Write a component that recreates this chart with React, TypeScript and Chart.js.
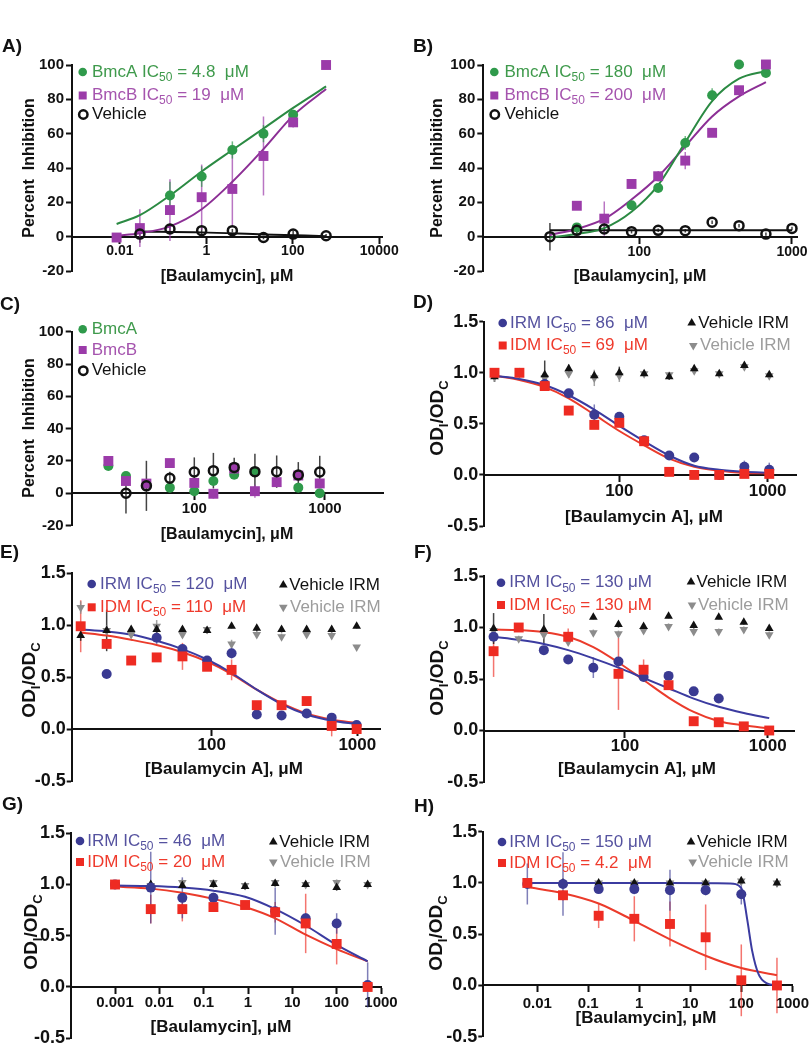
import React, { useEffect, useRef } from 'react';
import { Chart, registerables } from 'chart.js';

Chart.register(...registerables);

const FONT = '"Liberation Sans", Arial, Helvetica, sans-serif';

// ---------------- colours ----------------
const C_GREEN = '#2f9a4b';
const C_GREEN_LINE = '#2b8a43';
const C_GREEN_TXT = '#3f9a4c';
const C_GREEN_ERR = 'rgba(47,154,75,0.7)';
const C_PURPLE = '#9b3ba9';
const C_PURPLE_LINE = '#8c2f95';
const C_PURPLE_TXT = '#a554ae';
const C_PURPLE_ERR = 'rgba(155,59,169,0.7)';
const C_BLUE = '#3a3a92';
const C_BLUE_LINE = '#3b3ba0';
const C_BLUE_TXT = '#55529f';
const C_BLUE_ERR = 'rgba(58,58,146,0.65)';
const C_RED = '#ee2b22';
const C_RED_LINE = '#eb3b2b';
const C_RED_TXT = '#ef3a2c';
const C_RED_ERR = 'rgba(238,43,34,0.65)';
const C_BLACK = '#111111';
const C_BLACK_ERR = 'rgba(20,20,20,0.8)';
const C_GRAY = '#8c8c8c';
const C_GRAY_TXT = '#9c9c9c';
const C_GRAY_ERR = 'rgba(140,140,140,0.8)';

// ---------------- tick values ----------------
const PCT_YTICKS = [-20, 0, 20, 40, 60, 80, 100];
const OD_YTICKS = [-0.5, 0, 0.5, 1, 1.5];
const A_XTICKS = [0.01, 1, 100, 10000];
const BF_XTICKS = [100, 1000];
const G_XTICKS = [0.001, 0.01, 0.1, 1, 10, 100, 1000];
const H_XTICKS = [0.01, 0.1, 1, 10, 100, 1000];

// ---------------- Panel A ----------------
const A_CONC = [0.0084, 0.029, 0.144, 0.78, 4.0, 21, 102, 590];
const A_BMCA = [null, null, 24, 35, 50.5, 60, 71, null];
const A_BMCA_ERR = [0, 0, 8, 6, 5, 5, 3, 0];
const A_BMCB = [-0.5, 5, 15.5, 23, 27.8, 47, 66.6, 100];
const A_BMCB_ERR = [0, 11, 18, 19, 21, 23, 3, 0];
const A_VEH = [null, 1.5, 4.5, 3.5, 3.5, -0.5, 1.5, 0.5];
const A_VEH_ERR = [0, 5, 3, 2, 1, 1, 2, 1];
const A_FIT_X = [0.0084, 0.029, 0.144, 0.78, 4, 21, 102, 590];
const A_FIT_BMCA = [7.4, 12.5, 24, 38, 50.5, 63, 75, 87.5];
const A_FIT_BMCB = [0.5, 2, 6, 16, 32, 51, 70.5, 86];
const A_FIT_VEH_X = [0.029, 0.78, 21, 590];
const A_FIT_VEH = [3, 2.5, 1.3, 0.3];

// ---------------- Panel B ----------------
const B_CONC = [26, 39, 59, 89, 133, 200, 300, 450, 675, 1000];
const B_BMCA = [null, 5.4, null, 18.3, 28.4, 54.6, 82.4, 100.3, 95.4, null];
const B_BMCA_ERR = [0, 2, 0, 2, 2, 4, 4, 1, 2, 0];
const B_BMCB = [null, 18, 10.5, 30.7, 35.2, 44.3, 60.5, 85.3, 100.3, null];
const B_BMCB_ERR = [0, 1, 10, 1, 3, 5, 1, 1, 1, 0];
const B_VEH = [0, 3.7, 4.5, 2.9, 3.7, 3.5, 8.4, 6.4, 1.5, 4.8];
const B_VEH_ERR = [8, 2, 2, 1, 1, 1, 1, 1, 1, 1];
const B_FIT_X = [26, 39, 59, 89, 133, 200, 300, 450, 675];
const B_FIT_BMCA = [-0.5, 1.5, 5, 14.5, 30, 55, 79, 92, 96.5];
const B_FIT_BMCB = [1, 4.5, 10.3, 21.6, 35, 52.6, 70, 81.7, 90];
const B_FIT_VEH_X = [26, 1000];
const B_FIT_VEH = [3.7, 3.7];

// ---------------- Panel C ----------------
const C_CONC = [22, 30, 43, 65, 100, 140, 202, 291, 427, 625, 912];
const C_BMCA = [16.9, 10.7, null, 3.5, 1.3, 7.6, 11.5, 13, null, 3.5, 0];
const C_BMCA_ERR = [0, 2, 0, 2, 2, 2, 2, 2, 0, 2, 1];
const C_BMCB = [20, 7.6, 6, 18.7, 6.4, -0.3, 15.3, 1.3, 6.9, 11, 6.1];
const C_BMCB_ERR = [1, 2, 2, 1, 2, 3, 2, 4, 3, 2, 1];
const C_VEH = [null, 0, 4.6, 9.3, 13.2, 14, 16, 13.4, 13.4, 11.3, 13.2];
const C_VEH_ERR = [0, 12.5, 15.5, 4, 9, 11, 6, 11, 10, 8, 10];

// ---------------- Panel D ----------------
const D_CONC = [14.4, 21.2, 31.4, 45.6, 67.8, 100, 147, 217, 320, 472, 697, 1026];
const D_IRM = [null, null, 0.89, 0.8, 0.59, 0.57, 0.34, 0.19, 0.17, 0.0, 0.08, 0.05];
const D_IRM_ERR = [0, 0, 0.02, 0.02, 0.1, 0.04, 0.02, 0.02, 0.02, 0, 0.06, 0.07];
const D_IDM = [1.0, 1.0, 0.87, 0.63, 0.49, 0.51, 0.33, 0.03, 0.0, 0.0, 0.01, 0.01];
const D_IDM_ERR = [0.04, 0.03, 0.02, 0.02, 0.04, 0.03, 0.04, 0.02, 0.01, 0.01, 0.01, 0.01];
const D_VEH = [0.96, 1.0, 0.98, 1.04, 0.97, 1.0, 0.99, 0.96, 1.04, 0.99, 1.07, 0.98];
const D_VEH_ERR = [0.05, 0.03, 0.14, 0.04, 0.04, 0.06, 0.02, 0.03, 0.03, 0.03, 0.02, 0.02];
const D_VEH2 = [0.96, 0.99, 0.95, 0.99, 0.95, 0.97, 0.99, 0.98, 1.02, 0.99, 1.06, 0.97];
const D_VEH2_ERR = [0.05, 0.03, 0.05, 0.04, 0.08, 0.06, 0.02, 0.03, 0.03, 0.03, 0.02, 0.02];
const D_FIT_IRM = [0.97, 0.94, 0.88, 0.78, 0.64, 0.48, 0.33, 0.19, 0.09, 0.05, 0.03, 0.02];
const D_FIT_IDM = [0.97, 0.93, 0.86, 0.75, 0.59, 0.43, 0.29, 0.16, 0.08, 0.04, 0.02, 0.015];

// ---------------- Panel E ----------------
const E_CONC = [12.6, 19, 28, 41.9, 63, 93, 137, 204, 302, 449, 667, 990];
const E_IRM = [null, 0.53, null, 0.88, 0.77, 0.66, 0.73, 0.14, 0.13, 0.15, 0.11, 0.04];
const E_IRM_ERR = [0, 0, 0, 0.06, 0.04, 0.03, 0.05, 0.02, 0.02, 0.02, 0.02, 0.02];
const E_IDM = [0.99, 0.82, 0.66, 0.69, 0.7, 0.6, 0.57, 0.23, 0.23, 0.27, 0.03, 0.0];
const E_IDM_ERR = [0.25, 0.03, 0.03, 0.03, 0.13, 0.03, 0.1, 0.02, 0.02, 0.02, 0.1, 0.02];
const E_VEH = [0.9, 0.95, 0.96, 0.96, 0.96, 0.95, 0.99, 0.97, 0.96, 0.96, 0.96, 0.99];
const E_VEH_ERR = [0.05, 0.2, 0.03, 0.05, 0.03, 0.03, 0.02, 0.03, 0.03, 0.03, 0.03, 0.02];
const E_VEH2 = [1.17, 0.95, 0.91, 0.99, 0.91, 0.96, 0.82, 0.91, 0.89, 0.91, 0.9, 0.79];
const E_VEH2_ERR = [0.06, 0.05, 0.03, 0.06, 0.03, 0.03, 0.04, 0.03, 0.03, 0.03, 0.03, 0.02];
const E_FIT_IRM = [0.96, 0.94, 0.91, 0.85, 0.77, 0.67, 0.54, 0.38, 0.24, 0.14, 0.08, 0.05];
const E_FIT_IDM = [0.93, 0.9, 0.86, 0.81, 0.74, 0.65, 0.53, 0.38, 0.25, 0.15, 0.09, 0.06];

// ---------------- Panel F ----------------
const F_CONC = [12, 18, 27, 40, 60, 90, 135, 202, 303, 454, 680, 1025];
const F_IRM = [0.91, null, 0.78, 0.69, 0.61, 0.67, 0.52, 0.53, 0.38, 0.31, null, null];
const F_IRM_ERR = [0.03, 0, 0.02, 0.03, 0.1, 0.03, 0.03, 0.02, 0.02, 0.04, 0, 0];
const F_IDM = [0.77, 1.0, null, 0.91, null, 0.55, 0.59, 0.44, 0.09, 0.08, 0.04, 0.0];
const F_IDM_ERR = [0.25, 0.03, 0, 0.08, 0, 0.35, 0.1, 0.03, 0.02, 0.02, 0.02, 0.02];
const F_VEH = [0.99, null, 0.98, null, 1.1, 1.03, 1.01, 1.11, 1.02, 1.1, 1.05, 0.99];
const F_VEH_ERR = [0.15, 0, 0.15, 0, 0.02, 0.03, 0.02, 0.02, 0.03, 0.02, 0.02, 0.02];
const F_VEH2 = [0.97, 0.89, 0.93, 0.86, 0.95, 0.94, 0.97, 1.01, 0.96, 0.96, 0.98, 0.93];
const F_VEH2_ERR = [0.03, 0.03, 0.03, 0.03, 0.03, 0.03, 0.03, 0.03, 0.03, 0.03, 0.03, 0.03];
const F_FIT_IRM = [0.91, 0.88, 0.84, 0.78, 0.7, 0.61, 0.51, 0.41, 0.31, 0.23, 0.17, 0.12];
const F_FIT_IDM = [0.98, 0.975, 0.955, 0.91, 0.81, 0.66, 0.49, 0.32, 0.18, 0.09, 0.05, 0.02];

// ---------------- Panel G ----------------
const G_CONC = [0.001, 0.0064, 0.033, 0.166, 0.86, 4.1, 20, 100, 500];
const G_IRM = [1.0, 0.97, 0.87, 0.87, null, 0.74, 0.67, 0.62, 0.02];
const G_IRM_ERR = [0, 0.35, 0.2, 0.05, 0, 0.23, 0.05, 0.1, 0.22];
const G_IDM = [1.0, 0.76, 0.76, 0.78, 0.8, 0.73, 0.62, 0.42, 0.0];
const G_IDM_ERR = [0, 0.14, 0.12, 0.03, 0.03, 0.1, 0.29, 0.2, 0.03];
const G_VEH = [null, 1.0, 0.99, 1.0, 0.98, 1.01, 1.0, 0.97, 1.0];
const G_VEH2 = [null, 0.99, 1.02, 1.02, 0.99, 1.02, 1.0, 1.02, 1.0];
const G_VEH_ERR = [0, 0.03, 0.03, 0.03, 0.03, 0.03, 0.03, 0.03, 0.02];
const G_FIT_IRM = [0.99, 0.985, 0.97, 0.94, 0.88, 0.76, 0.6, 0.41, 0.25];
const G_FIT_IDM = [0.98, 0.96, 0.92, 0.86, 0.78, 0.67, 0.51, 0.37, 0.25];

// ---------------- Panel H ----------------
const H_CONC = [0.0064, 0.032, 0.16, 0.8, 4, 20, 100, 500];
const H_IRM = [0.99, 0.99, 0.94, 0.94, 0.93, 0.93, 0.89, null];
const H_IRM_ERR = [0.2, 0.31, 0.03, 0.05, 0.2, 0.05, 0.1, 0];
const H_IDM = [1.0, 0.88, 0.68, 0.65, 0.6, 0.47, 0.05, 0.0];
const H_IDM_ERR = [0.03, 0.05, 0.12, 0.22, 0.22, 0.32, 0.35, 0.27];
const H_VEH = [null, 1.0, 1.0, 1.0, 1.0, 1.0, 1.02, 1.0];
const H_VEH2 = [null, 1.0, 1.0, 1.0, 1.0, 1.0, 1.02, 1.0];
const H_VEH_ERR = [0, 0.02, 0.02, 0.02, 0.02, 0.02, 0.04, 0.04];
const H_FIT_IRM_X = [0.0064, 0.16, 4, 60, 100, 131, 163, 218, 318, 500];
const H_FIT_IRM = [1.0, 1.0, 1.0, 0.995, 0.95, 0.64, 0.34, 0.11, 0.02, 0.0];
const H_FIT_IDM = [0.96, 0.9, 0.8, 0.63, 0.45, 0.29, 0.17, 0.1];

// ---------------- text pieces ----------------
type Seg = [string, number];
const PCT_TITLE: Seg[] = [['Percent  Inhibition', 0]];
const OD_TITLE: Seg[] = [['OD', 0], ['I', 1], ['/OD', 0], ['C', 1]];
const ic = (name: string, val: string): Seg[] => [[name + ' IC', 0], ['50', 1], [' = ' + val, 0]];
const plain = (t: string): Seg[] => [[t, 0]];

// ---------------- helpers ----------------
function S(x: number[], y: (number | null)[], err: number[] | null, style: string, color: string, errColor: string, order: number, r?: number) {
  return { x, y, err, style, color, errColor, order, r };
}
function CV(x: number[], y: number[], color: string) {
  return { x, y, color };
}
function L(m: string, c: string, mx: number, my: number, tx: number, segs: Seg[], tc: string) {
  return { m, c, mx, my, tx, segs, tc };
}

const PANELS: any[] = [
  {
    key: 'A', area: [72, 65, 382, 271], xMin: 0.00078, xMax: 11600, xTicks: A_XTICKS, xFont: 14, xPad: 0,
    yTicks: PCT_YTICKS, yKind: 'pct', yFont: 15, tickLen: 6, yPad: 2,
    series: [
      S(A_CONC, A_VEH, A_VEH_ERR, 'open', C_BLACK, C_BLACK_ERR, 1),
      S(A_CONC, A_BMCB, A_BMCB_ERR, 'rect', C_PURPLE, C_PURPLE_ERR, 2),
      S(A_CONC, A_BMCA, A_BMCA_ERR, 'circle', C_GREEN, C_GREEN_ERR, 3),
    ],
    curves: [CV(A_FIT_X, A_FIT_BMCA, C_GREEN_LINE), CV(A_FIT_X, A_FIT_BMCB, C_PURPLE_LINE), CV(A_FIT_VEH_X, A_FIT_VEH, C_BLACK)],
    label: ['A)', 2, 47], xTitle: ['[Baulamycin], μM', 227, 277, 16], yTitle: { segs: PCT_TITLE, x: 30, y: 168, size: 16 },
    legend: [
      L('circle', C_GREEN, 82.7, 72, 92, ic('BmcA', '4.8  μM'), C_GREEN_TXT),
      L('rect', C_PURPLE, 82.7, 95.5, 92, ic('BmcB', '19  μM'), C_PURPLE_TXT),
      L('open', C_BLACK, 83.3, 114.5, 92, plain('Vehicle'), C_BLACK),
    ],
  },
  {
    key: 'B', area: [483.3, 65, 797.7, 271], xMin: 9.52, xMax: 1090, xTicks: BF_XTICKS, xFont: 14, xPad: 1,
    yTicks: PCT_YTICKS, yKind: 'pct', yFont: 15, tickLen: 6, yPad: 2,
    series: [
      S(B_CONC, B_VEH, B_VEH_ERR, 'open', C_BLACK, C_BLACK_ERR, 1),
      S(B_CONC, B_BMCB, B_BMCB_ERR, 'rect', C_PURPLE, C_PURPLE_ERR, 2),
      S(B_CONC, B_BMCA, B_BMCA_ERR, 'circle', C_GREEN, C_GREEN_ERR, 3),
    ],
    curves: [CV(B_FIT_X, B_FIT_BMCA, C_GREEN_LINE), CV(B_FIT_X, B_FIT_BMCB, C_PURPLE_LINE), CV(B_FIT_VEH_X, B_FIT_VEH, C_BLACK)],
    label: ['B)', 413, 47], xTitle: ['[Baulamycin], μM', 640, 277, 16], yTitle: { segs: PCT_TITLE, x: 438, y: 168, size: 16 },
    legend: [
      L('circle', C_GREEN, 494.3, 72, 504.5, ic('BmcA', '180  μM'), C_GREEN_TXT),
      L('rect', C_PURPLE, 494.3, 95.5, 504.5, ic('BmcB', '200  μM'), C_PURPLE_TXT),
      L('open', C_BLACK, 494.8, 114.5, 504.5, plain('Vehicle'), C_BLACK),
    ],
  },
  {
    key: 'C', area: [71.7, 331.7, 383, 525.6], xMin: 11.53, xMax: 2780, xTicks: BF_XTICKS, xFont: 15, xPad: 1,
    yTicks: PCT_YTICKS, yKind: 'pct', yFont: 15, tickLen: 6, yPad: 2,
    series: [
      S(C_CONC, C_VEH, C_VEH_ERR, 'open', C_BLACK, C_BLACK_ERR, 1),
      S(C_CONC, C_BMCB, C_BMCB_ERR, 'rect', C_PURPLE, C_PURPLE_ERR, 2),
      S(C_CONC, C_BMCA, C_BMCA_ERR, 'circle', C_GREEN, C_GREEN_ERR, 3),
    ],
    curves: [],
    label: ['C)', 0, 305], xTitle: ['[Baulamycin], μM', 227, 535, 16], yTitle: { segs: PCT_TITLE, x: 30, y: 428, size: 16 },
    legend: [
      L('circle', C_GREEN, 82.7, 329.3, 91.7, plain('BmcA'), C_GREEN_TXT),
      L('rect', C_PURPLE, 82.7, 350, 91.7, plain('BmcB'), C_PURPLE_TXT),
      L('open', C_BLACK, 83.3, 370.7, 91.7, plain('Vehicle'), C_BLACK),
    ],
  },
  {
    key: 'D', area: [484.3, 321.7, 796, 526], xMin: 12.29, xMax: 1554, xTicks: BF_XTICKS, xFont: 17, xPad: 0,
    yTicks: OD_YTICKS, yKind: 'od', yFont: 18, tickLen: 5, yPad: 1,
    series: [
      S(D_CONC, D_IDM, D_IDM_ERR, 'rect', C_RED, C_RED_ERR, 1),
      S(D_CONC, D_IRM, D_IRM_ERR, 'circle', C_BLUE, C_BLUE_ERR, 2),
      S(D_CONC, D_VEH, D_VEH_ERR, 'triUp', C_BLACK, C_BLACK_ERR, 3),
      S(D_CONC, D_VEH2, D_VEH2_ERR, 'triDown', C_GRAY, C_GRAY_ERR, 4),
    ],
    curves: [CV(D_CONC, D_FIT_IRM, C_BLUE_LINE), CV(D_CONC, D_FIT_IDM, C_RED_LINE)],
    label: ['D)', 413, 303], xTitle: ['[Baulamycin A], μM', 644, 517, 17], yTitle: { segs: OD_TITLE, x: 438, y: 418, size: 19 },
    legend: [
      L('circle', C_BLUE, 502.7, 323, 510, ic('IRM', '86  μM'), C_BLUE_TXT),
      L('rect', C_RED, 502.7, 345.5, 510, ic('IDM', '69  μM'), C_RED_TXT),
      L('triUp', C_BLACK, 691.7, 323, 698.3, plain('Vehicle IRM'), C_BLACK),
      L('triDown', C_GRAY, 693.3, 345.5, 700, plain('Vehicle IRM'), C_GRAY_TXT),
    ],
  },
  {
    key: 'E', area: [71.7, 573.3, 380, 781], xMin: 10.93, xMax: 1432, xTicks: BF_XTICKS, xFont: 17, xPad: 0,
    yTicks: OD_YTICKS, yKind: 'od', yFont: 18, tickLen: 5, yPad: 1,
    series: [
      S(E_CONC, E_IDM, E_IDM_ERR, 'rect', C_RED, C_RED_ERR, 1),
      S(E_CONC, E_IRM, E_IRM_ERR, 'circle', C_BLUE, C_BLUE_ERR, 2),
      S(E_CONC, E_VEH, E_VEH_ERR, 'triUp', C_BLACK, C_BLACK_ERR, 3),
      S(E_CONC, E_VEH2, E_VEH2_ERR, 'triDown', C_GRAY, C_GRAY_ERR, 4),
    ],
    curves: [CV(E_CONC, E_FIT_IRM, C_BLUE_LINE), CV(E_CONC, E_FIT_IDM, C_RED_LINE)],
    label: ['E)', 0, 553], xTitle: ['[Baulamycin A], μM', 224, 769, 17], yTitle: { segs: OD_TITLE, x: 30, y: 680, size: 19 },
    legend: [
      L('circle', C_BLUE, 91.7, 584, 100, ic('IRM', '120  μM'), C_BLUE_TXT),
      L('rect', C_RED, 91.7, 607.3, 100, ic('IDM', '110  μM'), C_RED_TXT),
      L('triUp', C_BLACK, 283.3, 585, 289.3, plain('Vehicle IRM'), C_BLACK),
      L('triDown', C_GRAY, 283.3, 607.3, 290, plain('Vehicle IRM'), C_GRAY_TXT),
    ],
  },
  {
    key: 'F', area: [484.3, 576, 794.3, 782], xMin: 10.33, xMax: 1536, xTicks: BF_XTICKS, xFont: 17, xPad: 0,
    yTicks: OD_YTICKS, yKind: 'od', yFont: 18, tickLen: 5, yPad: 1,
    series: [
      S(F_CONC, F_IDM, F_IDM_ERR, 'rect', C_RED, C_RED_ERR, 1),
      S(F_CONC, F_IRM, F_IRM_ERR, 'circle', C_BLUE, C_BLUE_ERR, 2),
      S(F_CONC, F_VEH, F_VEH_ERR, 'triUp', C_BLACK, C_BLACK_ERR, 3),
      S(F_CONC, F_VEH2, F_VEH2_ERR, 'triDown', C_GRAY, C_GRAY_ERR, 4),
    ],
    curves: [CV(F_CONC, F_FIT_IRM, C_BLUE_LINE), CV(F_CONC, F_FIT_IDM, C_RED_LINE)],
    label: ['F)', 414, 553], xTitle: ['[Baulamycin A], μM', 637, 769, 17], yTitle: { segs: OD_TITLE, x: 438, y: 678, size: 19 },
    legend: [
      L('circle', C_BLUE, 501, 582.7, 509.3, ic('IRM', '130 μM'), C_BLUE_TXT),
      L('rect', C_RED, 501, 605, 509.3, ic('IDM', '130 μM'), C_RED_TXT),
      L('triUp', C_BLACK, 691, 582, 696.5, plain('Vehicle IRM'), C_BLACK),
      L('triDown', C_GRAY, 692, 605, 698, plain('Vehicle IRM'), C_GRAY_TXT),
    ],
  },
  {
    key: 'G', area: [71, 833.3, 381, 1038.3], xMin: 0.0001017, xMax: 1000, xTicks: G_XTICKS, xFont: 15, xPad: 1,
    yTicks: OD_YTICKS, yKind: 'od', yFont: 18, tickLen: 5, yPad: 1,
    series: [
      S(G_CONC, G_IDM, G_IDM_ERR, 'rect', C_RED, C_RED_ERR, 1),
      S(G_CONC, G_IRM, G_IRM_ERR, 'circle', C_BLUE, C_BLUE_ERR, 2),
      S(G_CONC, G_VEH, G_VEH_ERR, 'triUp', C_BLACK, C_BLACK_ERR, 3),
      S(G_CONC, G_VEH2, G_VEH_ERR, 'triDown', C_GRAY, C_GRAY_ERR, 4),
    ],
    curves: [CV(G_CONC, G_FIT_IRM, C_BLUE_LINE), CV(G_CONC, G_FIT_IDM, C_RED_LINE)],
    label: ['G)', 2, 805], xTitle: ['[Baulamycin], μM', 221, 1027, 17], yTitle: { segs: OD_TITLE, x: 31.7, y: 932, size: 19 },
    legend: [
      L('circle', C_BLUE, 80, 841, 87.3, ic('IRM', '46  μM'), C_BLUE_TXT),
      L('rect', C_RED, 80, 862, 87.3, ic('IDM', '20  μM'), C_RED_TXT),
      L('triUp', C_BLACK, 273.3, 842, 279.3, plain('Vehicle IRM'), C_BLACK),
      L('triDown', C_GRAY, 273.3, 862, 280, plain('Vehicle IRM'), C_GRAY_TXT),
    ],
  },
  {
    key: 'H', area: [483.3, 831.7, 795, 1036.7], xMin: 0.000877, xMax: 1000, xTicks: H_XTICKS, xFont: 15, xPad: 3,
    yTicks: OD_YTICKS, yKind: 'od', yFont: 18, tickLen: 5, yPad: 1,
    series: [
      S(H_CONC, H_IDM, H_IDM_ERR, 'rect', C_RED, C_RED_ERR, 1),
      S(H_CONC, H_IRM, H_IRM_ERR, 'circle', C_BLUE, C_BLUE_ERR, 2),
      S(H_CONC, H_VEH, H_VEH_ERR, 'triUp', C_BLACK, C_BLACK_ERR, 3),
      S(H_CONC, H_VEH2, H_VEH_ERR, 'triDown', C_GRAY, C_GRAY_ERR, 4),
    ],
    curves: [CV(H_FIT_IRM_X, H_FIT_IRM, C_BLUE_LINE), CV(H_CONC, H_FIT_IDM, C_RED_LINE)],
    label: ['H)', 414, 807], xTitle: ['[Baulamycin], μM', 646, 1018, 17], yTitle: { segs: OD_TITLE, x: 437, y: 933, size: 19 },
    legend: [
      L('circle', C_BLUE, 502, 842, 509.3, ic('IRM', '150 μM'), C_BLUE_TXT),
      L('rect', C_RED, 502, 863, 509.3, ic('IDM', '4.2  μM'), C_RED_TXT),
      L('triUp', C_BLACK, 691, 842, 697, plain('Vehicle IRM'), C_BLACK),
      L('triDown', C_GRAY, 692.7, 862, 698, plain('Vehicle IRM'), C_GRAY_TXT),
    ],
  },
];

// ---------------- drawing helpers ----------------
function drawRich(ctx: CanvasRenderingContext2D, segs: Seg[], x: number, y: number, size: number, weight: string, color: string, align: string) {
  const subSize = Math.round(size * 0.7);
  const fMain = `${weight} ${size}px ${FONT}`;
  const fSub = `${weight} ${subSize}px ${FONT}`;
  let total = 0;
  for (const [t, sub] of segs) {
    ctx.font = sub ? fSub : fMain;
    total += ctx.measureText(t).width;
  }
  let cx = align === 'center' ? x - total / 2 : x;
  ctx.fillStyle = color;
  ctx.textBaseline = 'middle';
  ctx.textAlign = 'left';
  for (const [t, sub] of segs) {
    ctx.font = sub ? fSub : fMain;
    ctx.fillText(t, cx, sub ? y + size * 0.33 : y);
    cx += ctx.measureText(t).width;
  }
}

function drawMarker(ctx: CanvasRenderingContext2D, m: string, x: number, y: number, color: string) {
  ctx.save();
  ctx.fillStyle = color;
  ctx.strokeStyle = color;
  ctx.beginPath();
  if (m === 'circle') {
    ctx.arc(x, y, 4.3, 0, Math.PI * 2);
    ctx.fill();
  } else if (m === 'rect') {
    ctx.rect(x - 4, y - 4, 8, 8);
    ctx.fill();
  } else if (m === 'open') {
    ctx.lineWidth = 2.5;
    ctx.arc(x, y, 4.2, 0, Math.PI * 2);
    ctx.stroke();
  } else if (m === 'triUp') {
    const r = 5;
    ctx.moveTo(x, y - r);
    ctx.lineTo(x + r * 0.866, y + r * 0.5);
    ctx.lineTo(x - r * 0.866, y + r * 0.5);
    ctx.closePath();
    ctx.fill();
  } else if (m === 'triDown') {
    const r = 5;
    ctx.moveTo(x, y + r);
    ctx.lineTo(x + r * 0.866, y - r * 0.5);
    ctx.lineTo(x - r * 0.866, y - r * 0.5);
    ctx.closePath();
    ctx.fill();
  }
  ctx.restore();
}

function makePlugin(p: any) {
  return {
    id: 'deco' + p.key,
    beforeDatasetsDraw(chart: any) {
      const ctx = chart.ctx;
      const xs = chart.scales.x;
      const ys = chart.scales.y;
      chart.data.datasets.forEach((ds: any) => {
        if (!ds.errorBars) return;
        ctx.save();
        ctx.strokeStyle = ds.errorColor;
        ctx.lineWidth = 1.5;
        ds.data.forEach((pt: any, i: number) => {
          const e = ds.errorBars[i];
          if (!e) return;
          const px = xs.getPixelForValue(pt.x);
          ctx.beginPath();
          ctx.moveTo(px, ys.getPixelForValue(pt.y + e));
          ctx.lineTo(px, ys.getPixelForValue(pt.y - e));
          ctx.stroke();
        });
        ctx.restore();
      });
    },
    afterDraw(chart: any) {
      const ctx = chart.ctx;
      ctx.save();
      // panel letter
      ctx.font = `bold 19px ${FONT}`;
      ctx.fillStyle = '#111';
      ctx.textBaseline = 'middle';
      ctx.textAlign = 'left';
      ctx.fillText(p.label[0], p.label[1], p.label[2]);
      // x title
      drawRich(ctx, [[p.xTitle[0], 0]], p.xTitle[1], p.xTitle[2], p.xTitle[3], 'bold', '#111', 'center');
      // y title
      ctx.save();
      ctx.translate(p.yTitle.x, p.yTitle.y);
      ctx.rotate(-Math.PI / 2);
      drawRich(ctx, p.yTitle.segs, 0, 0, p.yTitle.size, 'bold', '#111', 'center');
      ctx.restore();
      // legend
      p.legend.forEach((e: any) => {
        drawMarker(ctx, e.m, e.mx, e.my, e.c);
        drawRich(ctx, e.segs, e.tx, e.my, 17, 'normal', e.tc, 'left');
      });
      ctx.restore();
    },
  };
}

function buildConfig(p: any) {
  const [Lx, T, R, B] = p.area;
  const YW = 60;
  const datasets: any[] = [];
  p.series.forEach((s: any) => {
    const data: any[] = [];
    const errs: number[] = [];
    s.x.forEach((x: number, i: number) => {
      const y = s.y[i];
      if (y === null || y === undefined) return;
      data.push({ x, y });
      errs.push(s.err ? s.err[i] : 0);
    });
    const isRect = s.style === 'rect';
    const isTri = s.style === 'triUp' || s.style === 'triDown';
    const isOpen = s.style === 'open';
    datasets.push({
      type: 'scatter',
      data,
      errorBars: errs,
      errorColor: s.errColor,
      showLine: false,
      clip: false,
      order: s.order,
      pointStyle: isRect ? 'rect' : isTri ? 'triangle' : 'circle',
      pointRotation: s.style === 'triDown' ? 180 : 0,
      pointRadius: s.r || (isRect ? 7 : isTri ? 5 : isOpen ? 4.5 : 5),
      pointBackgroundColor: isOpen ? 'rgba(255,255,255,0)' : s.color,
      pointBorderColor: s.color,
      pointBorderWidth: isOpen ? 2.5 : 0,
    });
  });
  p.curves.forEach((c: any) => {
    datasets.push({
      type: 'line',
      data: c.x.map((x: number, i: number) => ({ x, y: c.y[i] })),
      borderColor: c.color,
      borderWidth: 2,
      pointRadius: 0,
      cubicInterpolationMode: 'monotone',
      fill: false,
      clip: false,
      order: 50,
    });
  });
  const isPct = p.yKind === 'pct';
  return {
    type: 'scatter',
    data: { datasets },
    plugins: [makePlugin(p)],
    options: {
      responsive: false,
      animation: false,
      devicePixelRatio: 1,
      events: [],
      layout: { padding: { left: Lx - YW, top: T, right: 812 - R, bottom: 1050 - B } },
      plugins: { legend: { display: false }, tooltip: { enabled: false }, title: { display: false } },
      scales: {
        x: {
          type: 'logarithmic',
          min: p.xMin,
          max: p.xMax,
          position: { y: 0 },
          border: { display: true, color: '#111', width: 2 },
          grid: { display: true, drawOnChartArea: false, drawTicks: true, tickLength: 6, tickWidth: 2, tickColor: '#111' },
          ticks: {
            autoSkip: false,
            maxRotation: 0,
            padding: p.xPad,
            color: '#111',
            font: { family: FONT, size: p.xFont, weight: 'bold' },
            callback: (v: number) => String(v),
          },
          afterBuildTicks: (s: any) => {
            s.ticks = p.xTicks.map((v: number) => ({ value: v }));
          },
        },
        y: {
          type: 'linear',
          min: p.yTicks[0],
          max: p.yTicks[p.yTicks.length - 1],
          border: { display: true, color: '#111', width: 2 },
          grid: { display: true, drawOnChartArea: false, drawTicks: true, tickLength: p.tickLen, tickWidth: 2, tickColor: '#111' },
          ticks: {
            padding: p.yPad,
            color: '#111',
            font: { family: FONT, size: p.yFont, weight: 'bold' },
            callback: (v: number) => (isPct ? String(v) : v.toFixed(1)),
          },
          afterBuildTicks: (s: any) => {
            s.ticks = p.yTicks.map((v: number) => ({ value: v }));
          },
          afterFit: (s: any) => {
            s.width = YW;
          },
        },
      },
    },
  };
}

function Panel({ spec }: { spec: any }) {
  const ref = useRef<HTMLCanvasElement>(null);
  useEffect(() => {
    const chart = new Chart(ref.current as HTMLCanvasElement, buildConfig(spec) as any);
    return () => chart.destroy();
  }, [spec]);
  return (
    <canvas
      ref={ref}
      width={812}
      height={1050}
      style={{ position: 'absolute', left: 0, top: 0, width: 812, height: 1050 }}
    />
  );
}

export default function App() {
  return (
    <div style={{ position: 'absolute', left: 0, top: 0, width: 812, height: 1050, overflow: 'hidden', background: '#fff' }}>
      {PANELS.map((p) => (
        <Panel key={p.key} spec={p} />
      ))}
    </div>
  );
}
